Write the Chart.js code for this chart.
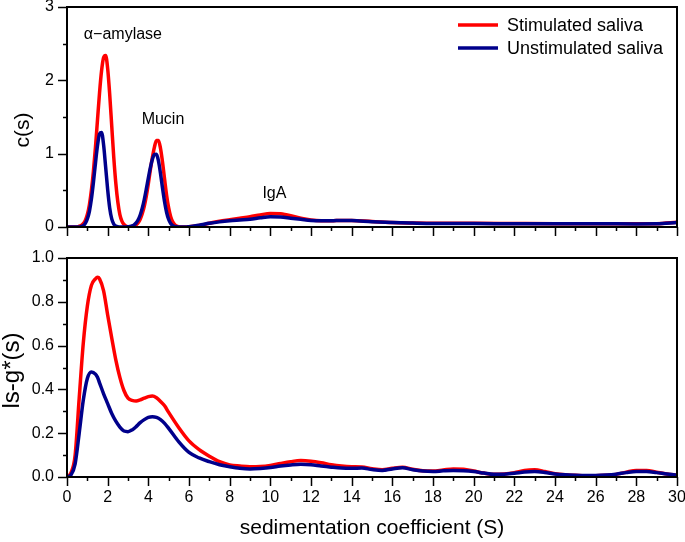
<!DOCTYPE html>
<html>
<head>
<meta charset="utf-8">
<script src="https://cdn.jsdelivr.net/npm/chart.js@4.4.0/dist/chart.umd.min.js"></script>
<style>
  body { margin: 0; background: #fff; }
  canvas { position: absolute; left: 0; }
</style>
</head>
<body>
<canvas id="topChart" width="685" height="240" style="top:0"></canvas>
<canvas id="bottomChart" width="685" height="302" style="top:240px"></canvas>
<script>
// series names
var seriesNames = ['Stimulated saliva', 'Unstimulated saliva'];

// top panel: c(s) distribution
var sTop = [
  0, 0.1, 0.2, 0.3, 0.4, 0.5, 0.6, 0.7, 0.8, 0.9,
  1.0, 1.1, 1.2, 1.3, 1.4, 1.5, 1.6, 1.7, 1.8, 1.9,
  2.0, 2.1, 2.2, 2.3, 2.4, 2.5, 2.6, 2.7, 2.8, 2.9,
  3.0, 3.1, 3.2, 3.3, 3.4, 3.5, 3.6, 3.7, 3.8, 3.9,
  4.0, 4.1, 4.2, 4.3, 4.4, 4.5, 4.6, 4.7, 4.8, 4.9,
  5.0, 5.1, 5.2, 5.3, 5.4, 5.5, 5.6, 5.7, 5.8, 5.9,
  6.0, 6.5, 7, 7.5, 8, 8.5, 9, 9.5, 10, 10.5, 11, 11.5, 12, 12.5,
  13, 13.5, 14, 15, 16, 17, 18, 20, 22, 24, 26, 28, 29, 30
];
var cStim = [
  0, 0, 0, 0, 0, 0, 0.01, 0.02, 0.045, 0.09,
  0.17, 0.30, 0.50, 0.76, 1.09, 1.46, 1.83, 2.13, 2.31, 2.34,
  2.16, 1.81, 1.38, 0.95, 0.60, 0.34, 0.17, 0.08, 0.035, 0.013,
  0, 0, 0.006, 0.014, 0.03, 0.058, 0.105, 0.18, 0.28, 0.42,
  0.59, 0.78, 0.95, 1.09, 1.18, 1.18, 1.07, 0.88, 0.65, 0.43,
  0.26, 0.14, 0.07, 0.03, 0.012, 0.004, 0, 0, 0, 0,
  0.005, 0.02, 0.05, 0.08, 0.10, 0.12, 0.14, 0.165, 0.185, 0.18, 0.155, 0.12, 0.095, 0.085,
  0.085, 0.09, 0.09, 0.075, 0.062, 0.055, 0.05, 0.05, 0.048, 0.046, 0.046, 0.044, 0.045, 0.065
];
var cUnstim = [
  0, 0, 0, 0, 0, 0, 0, 0.007, 0.02, 0.05,
  0.11, 0.21, 0.38, 0.61, 0.87, 1.11, 1.27, 1.29, 1.12, 0.82,
  0.51, 0.26, 0.11, 0.04, 0.013, 0.003, 0, 0, 0, 0,
  0.003, 0.007, 0.015, 0.03, 0.056, 0.099, 0.164, 0.256, 0.375, 0.516,
  0.667, 0.81, 0.923, 0.989, 0.991, 0.897, 0.726, 0.526, 0.341, 0.198,
  0.103, 0.048, 0.02, 0.007, 0.002, 0, 0, 0, 0, 0,
  0.005, 0.025, 0.05, 0.07, 0.085, 0.095, 0.105, 0.125, 0.14, 0.135, 0.12, 0.105, 0.09, 0.085,
  0.085, 0.09, 0.088, 0.072, 0.06, 0.053, 0.048, 0.047, 0.045, 0.044, 0.044, 0.042, 0.043, 0.06
];

// bottom panel: ls-g*(s) distribution
var sBottom = [
  0, 0.2, 0.4, 0.6, 0.8, 1.0, 1.2, 1.4, 1.5, 1.6, 1.8, 2.0, 2.2, 2.4, 2.6, 2.8,
  3.0, 3.2, 3.4, 3.6, 3.8, 4.0, 4.2, 4.4, 4.6, 4.8, 5.0,
  5.5, 6, 6.5, 7, 7.5, 8, 8.5, 9, 9.5, 10, 10.5, 11, 11.5, 12, 12.5,
  13, 13.5, 14, 14.5, 15, 15.5, 16, 16.5, 17, 17.5, 18, 18.5, 19, 19.5,
  20, 20.5, 21, 21.5, 22, 22.5, 23, 23.5, 24, 24.5, 25, 25.5, 26, 26.5,
  27, 27.5, 28, 28.5, 29, 29.5, 30
];
var gStim = [
  0, 0.02, 0.10, 0.36, 0.61, 0.78, 0.875, 0.905, 0.912, 0.905, 0.85, 0.74, 0.635, 0.535, 0.455, 0.395,
  0.36, 0.35, 0.347, 0.352, 0.36, 0.367, 0.37, 0.362, 0.345, 0.325, 0.295,
  0.225, 0.165, 0.125, 0.095, 0.07, 0.055, 0.05, 0.047, 0.048, 0.053, 0.062, 0.07, 0.075, 0.072, 0.065,
  0.056, 0.05, 0.047, 0.046, 0.038, 0.033, 0.04, 0.045, 0.035, 0.028, 0.027, 0.032, 0.037, 0.035,
  0.027, 0.018, 0.012, 0.014, 0.02, 0.03, 0.033, 0.025, 0.015, 0.01, 0.008, 0.006, 0.006, 0.008,
  0.012, 0.022, 0.03, 0.03, 0.022, 0.014, 0.008
];
var gUnstim = [
  0, 0.01, 0.06, 0.2, 0.35, 0.45, 0.48, 0.47, 0.455, 0.43, 0.38, 0.335, 0.29, 0.255, 0.228, 0.21,
  0.207, 0.215, 0.23, 0.248, 0.262, 0.272, 0.275, 0.272, 0.262, 0.245, 0.222,
  0.16, 0.112, 0.087, 0.07, 0.056, 0.047, 0.04, 0.037, 0.039, 0.043, 0.05, 0.055, 0.058, 0.056, 0.05,
  0.045, 0.041, 0.04, 0.041, 0.034, 0.03, 0.037, 0.042, 0.033, 0.027, 0.025, 0.028, 0.03, 0.029,
  0.025, 0.018, 0.012, 0.013, 0.017, 0.023, 0.025, 0.021, 0.014, 0.01, 0.008, 0.007, 0.007, 0.009,
  0.013, 0.02, 0.025, 0.025, 0.02, 0.014, 0.009
];

// peak names written on the top panel
var peakNames = ['\u03b1\u2212amylase', 'Mucin', 'IgA'];

var colors = ['#ff0000', '#00008b'];
var fontFamily = '"Liberation Sans", Arial, Helvetica, sans-serif';
Chart.defaults.font.family = fontFamily;
Chart.defaults.color = '#000';

function points(xs, ys) {
  return xs.map(function (x, i) { return { x: x, y: ys[i] }; });
}

function makeDatasets(xs, stim, unstim) {
  return [stim, unstim].map(function (ys, i) {
    return {
      label: seriesNames[i],
      data: points(xs, ys),
      borderColor: colors[i],
      backgroundColor: colors[i],
      borderWidth: 3.5,
      pointRadius: 0,
      fill: false,
      cubicInterpolationMode: 'monotone',
      order: 1 - i   // blue drawn on top
    };
  });
}

// box round the plot area, outward major/minor ticks, y title
var frame = {
  id: 'frame',
  afterDraw: function (chart, args, o) {
    var ctx = chart.ctx, a = chart.chartArea, sx = chart.scales.x, sy = chart.scales.y;
    ctx.save();
    ctx.strokeStyle = '#000';
    ctx.lineWidth = 1.5;
    ctx.beginPath();
    for (var i = 0; i <= 30; i++) {
      var px = Math.round(sx.getPixelForValue(i)) + 0.5;
      ctx.moveTo(px, a.bottom);
      ctx.lineTo(px, a.bottom + (i % 2 === 0 ? 9 : 4));
    }
    var n = Math.round(o.yMax / o.yMinor);
    for (var j = 0; j <= n; j++) {
      var py = Math.round(sy.getPixelForValue(j * o.yMinor)) + 0.5;
      ctx.moveTo(a.left, py);
      ctx.lineTo(a.left - (j % 2 === 0 ? 9 : 4), py);
    }
    ctx.stroke();
    ctx.lineWidth = 2;
    ctx.strokeRect(a.left, a.top, a.right - a.left, a.bottom - a.top);

    // y axis title (rotated)
    ctx.translate(o.titleBase, (a.top + a.bottom) / 2 + o.titleShift);
    ctx.rotate(-Math.PI / 2);
    ctx.font = o.titleSize + 'px ' + fontFamily;
    ctx.fillStyle = '#000';
    ctx.textAlign = 'center';
    ctx.textBaseline = 'alphabetic';
    ctx.fillText(o.title, 0, 0);
    ctx.restore();
  }
};

// peak names + legend on the top panel
var notes = {
  id: 'notes',
  afterDraw: function (chart, args, o) {
    if (!o.show) return;
    var ctx = chart.ctx, a = chart.chartArea, sx = chart.scales.x, sy = chart.scales.y;
    ctx.save();
    ctx.fillStyle = '#000';
    ctx.textAlign = 'center';
    ctx.textBaseline = 'middle';
    ctx.font = '16px ' + fontFamily;
    var lx = [2.75, 4.72, 10.2], ly = [2.62, 1.46, 0.46];
    peakNames.forEach(function (t, i) {
      ctx.fillText(t, sx.getPixelForValue(lx[i]), sy.getPixelForValue(ly[i]));
    });
    ctx.font = '18px ' + fontFamily;
    ctx.textAlign = 'left';
    chart.data.datasets.forEach(function (ds, i) {
      var y = a.top + 18 + i * 23;
      ctx.strokeStyle = ds.borderColor;
      ctx.lineWidth = 3.5;
      ctx.beginPath();
      ctx.moveTo(a.right - 219, y);
      ctx.lineTo(a.right - 179, y);
      ctx.stroke();
      ctx.fillText(ds.label, a.right - 170, y + 1);
    });
    ctx.restore();
  }
};

function buildChart(id, xs, stim, unstim, cfg) {
  return new Chart(document.getElementById(id), {
    type: 'line',
    data: { datasets: makeDatasets(xs, stim, unstim) },
    plugins: [frame, notes],
    options: {
      responsive: false,
      animation: false,
      events: [],
      layout: { padding: { top: cfg.padTop, right: 8, left: 0, bottom: 0 } },
      plugins: {
        legend: { display: false },
        tooltip: { enabled: false },
        frame: {
          yMax: cfg.yMax, yMinor: cfg.yMinor, title: cfg.yTitle,
          titleSize: cfg.yTitleSize, titleBase: cfg.yTitleBase, titleShift: cfg.yTitleShift
        },
        notes: { show: cfg.notes }
      },
      scales: {
        x: {
          type: 'linear', min: 0, max: 30,
          ticks: { stepSize: 2, display: cfg.xLabels, padding: 11, font: { size: 16 }, maxRotation: 0, autoSkip: false },
          grid: { display: false, drawTicks: false },
          border: { display: false },
          title: {
            display: cfg.xLabels,
            text: 'sedimentation coefficient (S)',
            font: { size: 21 },
            padding: { top: 0, bottom: 1 }
          },
          afterFit: function (s) { s.height = cfg.xHeight; s.paddingLeft = 0; s.paddingRight = 0; }
        },
        y: {
          min: 0, max: cfg.yMax,
          ticks: {
            stepSize: cfg.yMinor * 2, padding: 13, font: { size: 16 },
            callback: function (v) { return cfg.yFmt(v); }
          },
          grid: { display: false, drawTicks: false },
          border: { display: false },
          afterFit: function (s) { s.width = 67; s.paddingTop = 0; s.paddingBottom = 0; }
        }
      }
    }
  });
}

buildChart('topChart', sTop, cStim, cUnstim, {
  padTop: 7, xHeight: 13, xLabels: false, yMax: 3, yMinor: 0.5,
  yTitle: 'c(s)', yTitleSize: 21, yTitleBase: 29, yTitleShift: 13, notes: true,
  yFmt: function (v) { return String(v); }
});

buildChart('bottomChart', sBottom, gStim, gUnstim, {
  padTop: 18, xHeight: 65, xLabels: true, yMax: 1, yMinor: 0.1,
  yTitle: 'ls-g*(s)', yTitleSize: 24, yTitleBase: 19, yTitleShift: 3, notes: false,
  yFmt: function (v) { return v.toFixed(1); }
});
</script>
</body>
</html>
